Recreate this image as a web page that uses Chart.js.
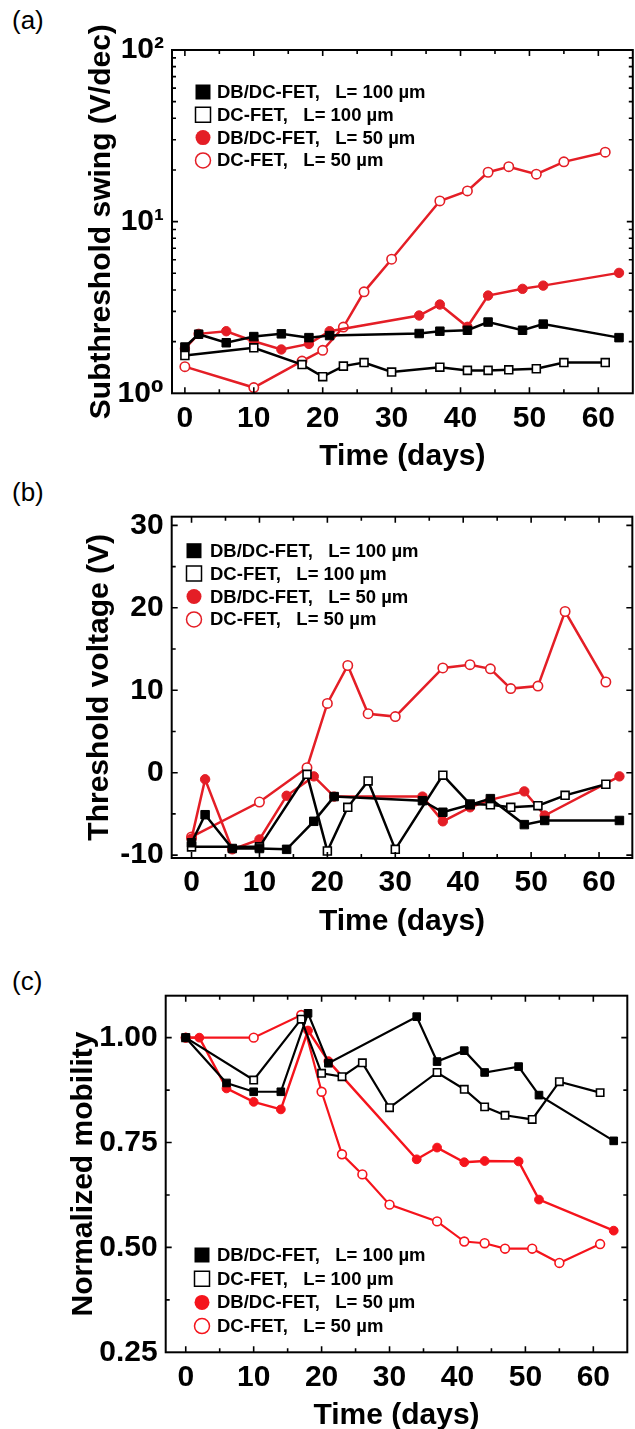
<!DOCTYPE html>
<html>
<head>
<meta charset="utf-8">
<script src="https://cdn.jsdelivr.net/npm/chart.js@4.4.1/dist/chart.umd.min.js"></script>
<style>
  html, body { margin: 0; padding: 0; background: #fff; overflow: hidden; width: 635px; height: 1429px; }
  canvas { position: absolute; left: 0; }
  .tag { position: absolute; left: 12px; font: 26px 'Liberation Sans', Arial, sans-serif; color: #000; line-height: 30px; }
</style>
</head>
<body>
<div class="tag" style="top:5px">(a)</div>
<div class="tag" style="top:477px">(b)</div>
<div class="tag" style="top:966px">(c)</div>
<canvas id="ssChart" width="640" height="480" style="top:0px"></canvas>
<canvas id="vthChart" width="640" height="470" style="top:480px"></canvas>
<canvas id="muChart" width="640" height="490" style="top:950px"></canvas>
<script>
// measurement days for the two device types
var daysDB = [0, 2, 6, 10, 14, 18, 21, 34, 37, 41, 44, 49, 52, 63]
var daysDC = [0, 10, 17, 20, 23, 26, 30, 37, 41, 44, 47, 51, 55, 61]
var seriesNames = ['DB/DC-FET,   L= 100 µm', 'DC-FET,   L= 100 µm', 'DB/DC-FET,   L= 50 µm', 'DC-FET,   L= 50 µm']
var dayTicks = [0, 10, 20, 30, 40, 50, 60]

// (a) subthreshold swing, V/dec
var ssDB100 = [1.86, 2.21, 1.97, 2.14, 2.22, 2.11, 2.17, 2.23, 2.30, 2.33, 2.60, 2.33, 2.53, 2.11]
var ssDC100 = [1.66, 1.84, 1.47, 1.25, 1.44, 1.51, 1.33, 1.42, 1.36, 1.36, 1.37, 1.39, 1.51, 1.51]
var ssDB50 = [1.82, 2.22, 2.30, 2.01, 1.80, 1.94, 2.30, 2.84, 3.29, 2.44, 3.71, 4.06, 4.24, 5.03]
var ssDC50 = [1.43, 1.08, 1.54, 1.78, 2.43, 3.90, 6.04, 13.2, 15.1, 19.4, 20.9, 18.9, 22.3, 25.4]
var ssDecades = [1, 10, 100]
var ssDecadeLabels = ['10⁰', '10¹', '10²']

// (b) threshold voltage, V
var vthDB100 = [-8.5, -5.1, -9.2, -9.2, -9.3, -5.9, -2.9, -3.4, -4.8, -3.9, -3.15, -6.3, -5.8, -5.8]
var vthDC100 = [-9.0, -9.0, -0.2, -9.5, -4.2, -1.0, -9.3, -0.3, -3.8, -3.9, -4.2, -4.0, -2.75, -1.4]
var vthDB50 = [-8.0, -0.8, -9.3, -8.1, -2.8, -0.45, -2.9, -2.9, -5.9, -4.2, -3.3, -2.27, -5.2, -0.45]
var vthDC50 = [-7.8, -3.56, 0.6, 8.4, 13.0, 7.15, 6.8, 12.7, 13.1, 12.6, 10.2, 10.5, 19.55, 11.0]
var vthTicks = [-10, 0, 10, 20, 30]

// (c) normalized mobility (no day-2 point for the DB/DC 100 um device)
var muDB100 = [1.0, null, 0.892, 0.871, 0.871, 1.058, 0.939, 1.050, 0.943, 0.969, 0.917, 0.931, 0.863, 0.754]
var muDC100 = [1.0, 0.899, 1.044, 0.915, 0.907, 0.940, 0.833, 0.917, 0.877, 0.835, 0.815, 0.805, 0.895, 0.869]
var muDB50 = [1.0, 1.0, 0.879, 0.847, 0.829, 1.017, 0.944, 0.710, 0.738, 0.703, 0.706, 0.705, 0.614, 0.540]
var muDC50 = [1.0, 1.0, 1.054, 0.871, 0.722, 0.674, 0.602, 0.562, 0.514, 0.510, 0.497, 0.497, 0.463, 0.508]
var muTicks = [0.25, 0.50, 0.75, 1.00]

var FONT = "'Liberation Sans', Arial, 'DejaVu Sans', sans-serif"
var tickFont = { family: FONT, size: 30, weight: 'bold', lineHeight: 1.2 }
var titleFont = { family: FONT, size: 30, weight: 'bold', lineHeight: 1.2 }

Chart.defaults.animation = false
Chart.defaults.responsive = false
Chart.defaults.devicePixelRatio = 1
Chart.defaults.color = '#000'

function steps(from, to, step) {
  let out = []
  for (let v = from; v <= to + 1e-9; v += step) out.push(+v.toFixed(4))
  return out
}

function makeSet(label, xs, ys, color, shape, filled, r, lineW) {
  return {
    label: label,
    data: xs.map((x, i) => ({ x: x, y: ys[i] })),
    showLine: true,
    spanGaps: true,
    tension: 0,
    borderColor: color,
    backgroundColor: filled ? color : '#fff',
    borderWidth: lineW,
    pointStyle: shape,
    pointRadius: r,
    pointHoverRadius: r,
    pointBorderWidth: filled ? 1 : 1.6,
    pointBorderColor: color,
    pointBackgroundColor: filled ? color : '#fff'
  }
}

// box round the plot with inward tick marks on all four sides
var frameBox = {
  id: 'frameBox',
  afterDraw(chart) {
    const { ctx, chartArea: a, scales } = chart
    ctx.save()
    ctx.strokeStyle = '#000'
    ctx.lineWidth = 1.6
    ctx.beginPath()
    scales.x.ticks.forEach(t => {
      const px = scales.x.getPixelForValue(t.value)
      if (px < a.left + 1 || px > a.right - 1) return
      const len = t.label ? 6 : 4
      ctx.moveTo(px, a.bottom); ctx.lineTo(px, a.bottom - len)
      ctx.moveTo(px, a.top); ctx.lineTo(px, a.top + len)
    })
    scales.y.ticks.forEach(t => {
      const py = scales.y.getPixelForValue(t.value)
      if (py < a.top + 1 || py > a.bottom - 1) return
      const len = t.label ? 6 : 4
      ctx.moveTo(a.left, py); ctx.lineTo(a.left + len, py)
      ctx.moveTo(a.right, py); ctx.lineTo(a.right - len, py)
    })
    ctx.stroke()
    ctx.lineWidth = 2
    ctx.strokeRect(a.left, a.top, a.right - a.left, a.bottom - a.top)
    ctx.restore()
  }
}

// legend drawn inside the plot area
var keyBox = {
  id: 'keyBox',
  afterDraw(chart, args, o) {
    const ctx = chart.ctx
    ctx.save()
    ctx.font = 'bold 18.5px ' + FONT
    ctx.textBaseline = 'middle'
    chart.data.datasets.forEach((ds, i) => {
      const cy = o.y + i * o.gap
      const h = o.size / 2
      const filled = ds.pointBackgroundColor !== '#fff'
      ctx.fillStyle = ds.pointBackgroundColor
      ctx.strokeStyle = ds.borderColor
      ctx.lineWidth = 1.5
      ctx.beginPath()
      if (ds.pointStyle === 'rect') ctx.rect(o.x - h, cy - h, o.size, o.size)
      else ctx.arc(o.x, cy, h, 0, Math.PI * 2)
      ctx.fill()
      if (!filled) ctx.stroke()
      ctx.fillStyle = '#000'
      ctx.fillText(ds.label, o.textX, cy + 1)
    })
    ctx.restore()
  }
}

Chart.register(frameBox, keyBox)

function xAxis(min, max, height, titlePad) {
  return {
    type: 'linear', min: min, max: max,
    afterBuildTicks: s => { s.ticks = steps(0, 65, 5).map(v => ({ value: v })) },
    afterFit: s => { s.height = height },
    grid: { display: false, drawTicks: false },
    border: { display: false },
    ticks: {
      autoSkip: false, maxRotation: 0, padding: 7, font: tickFont,
      callback: v => dayTicks.includes(v) ? String(v) : ''
    },
    title: { display: true, text: 'Time (days)', font: titleFont, padding: { top: 0, bottom: titlePad } }
  }
}

function yAxis(extra, title, titleX) {
  return Object.assign({
    afterFit: s => { s.width = extra.width },
    grid: { display: false, drawTicks: false },
    border: { display: false },
    ticks: Object.assign({ autoSkip: false, padding: 8, font: tickFont }, extra.ticks),
    title: { display: true, text: title, font: titleFont, padding: { top: titleX - 18, bottom: 0 } }
  }, extra.scale)
}

var RED = '#e41e26'
var RED_C = '#f5141c'

// (a) subthreshold swing
new Chart(document.getElementById('ssChart'), {
  type: 'scatter',
  data: {
    datasets: [
      makeSet(seriesNames[0], daysDB, ssDB100, '#000', 'rect', true, 6, 2.5),
      makeSet(seriesNames[1], daysDC, ssDC100, '#000', 'rect', false, 5.6, 2.5),
      makeSet(seriesNames[2], daysDB, ssDB50, RED, 'circle', true, 4.7, 2.5),
      makeSet(seriesNames[3], daysDC, ssDC50, RED, 'circle', false, 4.7, 2.5)
    ]
  },
  options: {
    layout: { padding: { top: 50, right: 3, left: 0, bottom: 0 } },
    plugins: {
      legend: { display: false }, tooltip: { enabled: false },
      keyBox: { x: 203, y: 92, gap: 22.8, size: 15, textX: 217 }
    },
    scales: {
      x: xAxis(-1.87, 65.0, 86.7, 5),
      y: yAxis({
        width: 172,
        scale: {
          type: 'logarithmic', min: 1, max: 100,
          afterBuildTicks: s => {
            let v = [1, 2, 3, 4, 5, 6, 7, 8, 9, 10, 20, 30, 40, 50, 60, 70, 80, 90, 100]
            s.ticks = v.map(t => ({ value: t }))
          }
        },
        ticks: { callback: v => { const k = ssDecades.indexOf(v); return k < 0 ? '' : ssDecadeLabels[k] } }
      }, 'Subthreshold swing (V/dec)', 102)
    }
  }
})

// (b) threshold voltage
new Chart(document.getElementById('vthChart'), {
  type: 'scatter',
  data: {
    datasets: [
      makeSet(seriesNames[0], daysDB, vthDB100, '#000', 'rect', true, 6, 2.5),
      makeSet(seriesNames[1], daysDC, vthDC100, '#000', 'rect', false, 5.6, 2.5),
      makeSet(seriesNames[2], daysDB, vthDB50, RED, 'circle', true, 4.7, 2.5),
      makeSet(seriesNames[3], daysDC, vthDC50, RED, 'circle', false, 4.7, 2.5)
    ]
  },
  options: {
    layout: { padding: { top: 36.7, right: 3, left: 0, bottom: 0 } },
    plugins: {
      legend: { display: false }, tooltip: { enabled: false },
      keyBox: { x: 194, y: 70.7, gap: 22.9, size: 15, textX: 210 }
    },
    scales: {
      x: xAxis(-2.92, 64.9, 92, 10),
      y: yAxis({
        width: 171.7,
        scale: {
          type: 'linear', min: -10.35, max: 31.05,
          afterBuildTicks: s => { s.ticks = steps(-10, 30, 5).map(v => ({ value: v })) }
        },
        ticks: { callback: v => vthTicks.includes(v) ? String(v) : '' }
      }, 'Threshold voltage (V)', 100)
    }
  }
})

// (c) normalized mobility
new Chart(document.getElementById('muChart'), {
  type: 'scatter',
  data: {
    datasets: [
      makeSet(seriesNames[0], daysDB, muDB100, '#000', 'rect', true, 5.4, 2.2),
      makeSet(seriesNames[1], daysDC, muDC100, '#000', 'rect', false, 5.2, 2.2),
      makeSet(seriesNames[2], daysDB, muDB50, RED_C, 'circle', true, 4.4, 2.4),
      makeSet(seriesNames[3], daysDC, muDC50, RED_C, 'circle', false, 4.4, 2.2)
    ]
  },
  options: {
    layout: { padding: { top: 45.7, right: 12.7, left: 0, bottom: 0 } },
    plugins: {
      legend: { display: false }, tooltip: { enabled: false },
      keyBox: { x: 202, y: 305, gap: 23.7, size: 15, textX: 217 }
    },
    scales: {
      x: xAxis(-2.95, 65.0, 87.7, 6),
      y: yAxis({
        width: 165.7,
        scale: {
          type: 'linear', min: 0.25, max: 1.10,
          afterBuildTicks: s => { s.ticks = steps(0.25, 1.0, 0.125).map(v => ({ value: v })) }
        },
        ticks: { callback: v => muTicks.includes(v) ? v.toFixed(2) : '' }
      }, 'Normalized mobility', 84)
    }
  }
})
</script>
</body>
</html>
